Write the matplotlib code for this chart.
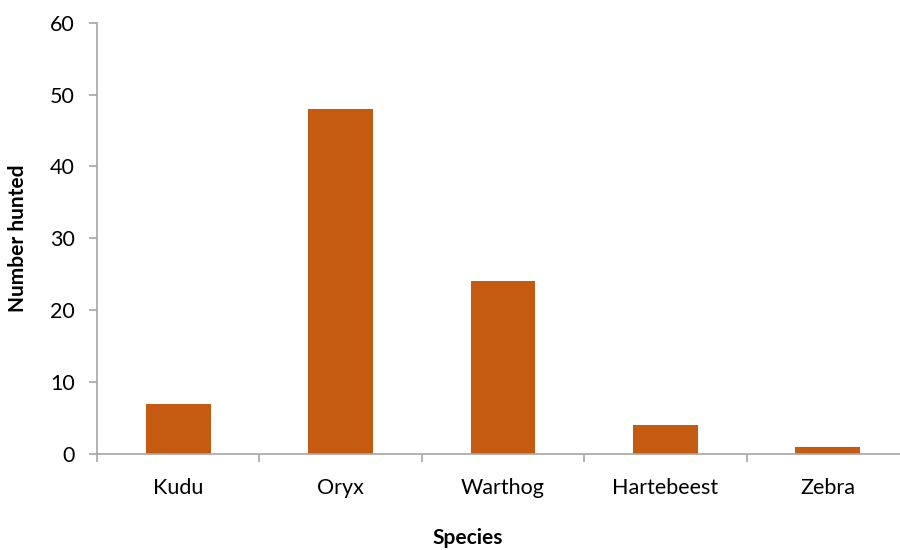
import matplotlib.pyplot as plt

species = ['Kudu', 'Oryx', 'Warthog', 'Hartebeest', 'Zebra']
hunted = [7, 48, 24, 4, 1]
y_ticks = [0, 10, 20, 30, 40, 50, 60]

plt.rcParams['font.family'] = ['Lato', 'DejaVu Sans']

fig = plt.figure(figsize=(9, 5.5), dpi=100)
# axes runs a bit past the right edge, like the original
ax = fig.add_axes([97/900, 96/550, 812/900, 431.3/550])

pos = range(len(species))
ax.bar(pos, hunted, width=0.4, color='#C55A11')

ax.set_xlim(-0.5, len(species) - 0.5)
ax.set_ylim(0, 60)
ax.set_yticks(y_ticks)
ax.set_xticks(pos)
ax.set_xticklabels(species)
ax.set_xticks([p - 0.5 for p in range(len(species) + 1)], minor=True)

for s in ['top', 'right']:
    ax.spines[s].set_visible(False)
for s in ['left', 'bottom']:
    ax.spines[s].set_color('#A6A6A6')
    ax.spines[s].set_linewidth(1.2)

ax.tick_params(axis='x', which='major', length=0, pad=17, labelsize=15.5)
ax.tick_params(axis='x', which='minor', length=6, width=1.2, color='#A6A6A6')
ax.tick_params(axis='y', length=6, width=1.2, color='#A6A6A6', pad=10, labelsize=15.5)

ax.set_xlabel('Species', fontsize=15, fontweight='bold', va='center')
ax.xaxis.set_label_coords((468 - 97) / 812, -84 / 431.3)
ax.set_ylabel('Number hunted', fontsize=15, fontweight='bold', va='center')
ax.yaxis.set_label_coords(-(97 - 18) / 812, 0.5)

fig.savefig('out.png', dpi=100)
